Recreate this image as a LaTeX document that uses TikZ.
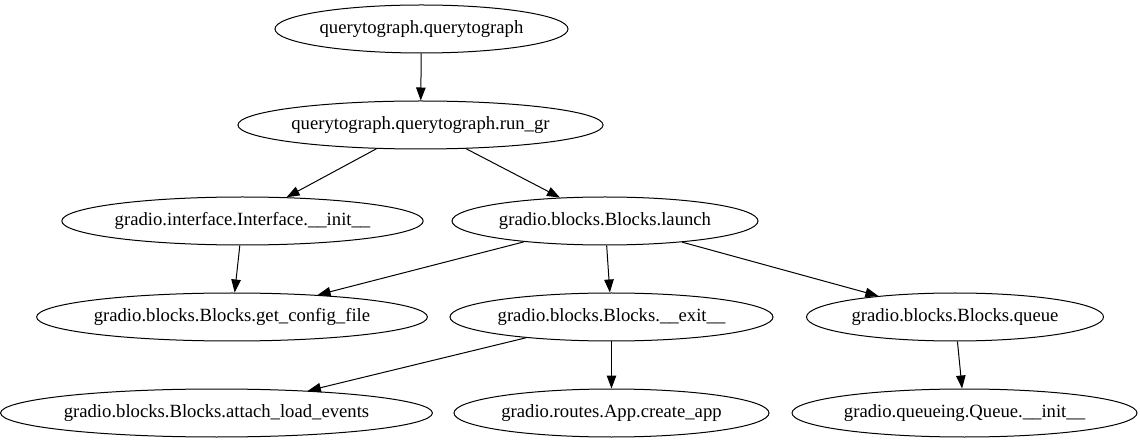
\documentclass[tikz,border=0pt]{standalone}
\usepackage{fontspec}
\setmainfont{Liberation Serif}
\usetikzlibrary{shapes.geometric,arrows.meta}

\begin{document}
\begin{tikzpicture}[x=1pt,y=-1pt,
    func/.style={draw=black,ellipse,line width=1pt,inner sep=0pt,minimum height=48pt,
                 font=\fontsize{18.67}{22}\selectfont},
    call/.style={draw=black,line width=1pt,-{Triangle[length=13pt,width=9.5pt]}}]
                \useasboundingbox (0,0) rectangle (1140,443);

                \node[func,minimum width=293pt] (qtg) at (421.5,29) {querytograph.querytograph};
                \node[func,minimum width=365pt] (rungr) at (420.5,125) {querytograph.querytograph.run\_gr};
                \node[func,minimum width=361pt] (ifinit) at (242.5,221) {gradio.interface.Interface.\_\_init\_\_};
                \node[func,minimum width=306pt] (launch) at (605,221) {gradio.blocks.Blocks.launch};
                \node[func,minimum width=390pt] (getcfg) at (232,317) {gradio.blocks.Blocks.get\_config\_file};
                \node[func,minimum width=323pt] (exit) at (611.5,317) {gradio.blocks.Blocks.\_\_exit\_\_};
                \node[func,minimum width=297pt] (queue) at (955,317) {gradio.blocks.Blocks.queue};
                \node[func,minimum width=427pt] (attach) at (216.5,413) {gradio.blocks.Blocks.attach\_load\_events};
                \node[func,minimum width=315pt] (createapp) at (611.5,413) {gradio.routes.App.create\_app};
                \node[func,minimum width=345pt] (qinit) at (964.5,413) {gradio.queueing.Queue.\_\_init\_\_};

                \draw[call] (qtg) -- (rungr);
                \draw[call] (rungr) -- (ifinit);
                \draw[call] (rungr) -- (launch);
                \draw[call] (ifinit) -- (getcfg);
                \draw[call] (launch) -- (getcfg);
                \draw[call] (launch) -- (exit);
                \draw[call] (launch) -- (queue);
                \draw[call] (exit) -- (attach);
                \draw[call] (exit) -- (createapp);
                \draw[call] (queue) -- (qinit);
\end{tikzpicture}
\end{document}
